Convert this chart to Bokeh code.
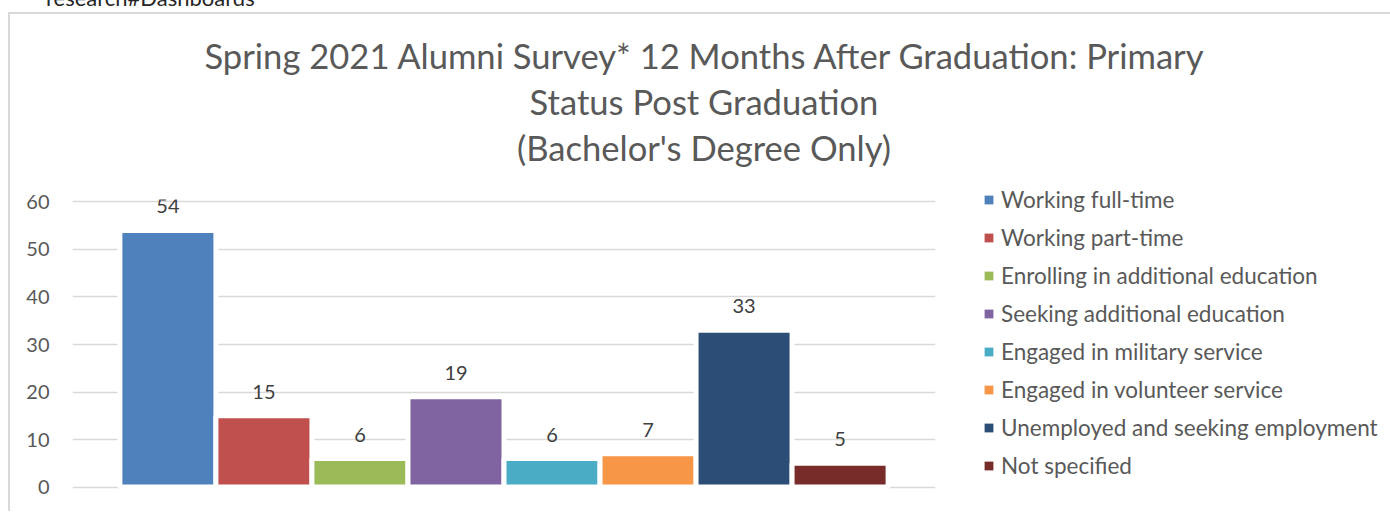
from bokeh.plotting import figure
from bokeh.models import (ColumnDataSource, FactorRange, Range1d, FixedTicker,
                          Legend, LegendItem, Div)
from bokeh.layouts import column
from bokeh.embed import file_html
from bokeh.resources import INLINE
from bokeh.core.properties import value

# ---- data ----
statuses = [
    "Working full-time",
    "Working part-time",
    "Enrolling in additional education",
    "Seeking additional education",
    "Engaged in military service",
    "Engaged in volunteer service",
    "Unemployed and seeking employment",
    "Not specified",
]
counts = [54, 15, 6, 19, 6, 7, 33, 5]
colors = ["#4f81bd", "#c0504d", "#9bbb59", "#8064a2", "#4bacc6", "#f79646", "#2c4d75", "#772c2a"]
y_ticks = [0, 10, 20, 30, 40, 50, 60]
title_lines = [
    "Spring 2021 Alumni Survey* 12 Months After Graduation: Primary",
    "Status Post Graduation",
    "(Bachelor's Degree Only)",
]
header_text = "research#Dashboards"

FONT = "Lato"
GREY = "#595959"

src = ColumnDataSource(dict(status=statuses, value=counts, color=colors,
                            label=[str(v) for v in counts]))

p = figure(
    frame_width=863, frame_height=290,
    x_range=FactorRange(factors=statuses, range_padding=0.1234, range_padding_units="percent"),
    y_range=Range1d(-0.5, 60.5),
    x_axis_location=None,
    min_border_left=62, min_border_right=0, min_border_top=15, min_border_bottom=22,
    toolbar_location=None, output_backend="svg",
)
p.outline_line_color = None
p.xgrid.grid_line_color = None
p.ygrid.grid_line_color = "#d9d9d9"
p.ygrid.grid_line_width = 1.5
p.ygrid.ticker = FixedTicker(ticks=y_ticks)

ax = p.yaxis[0]
ax.ticker = FixedTicker(ticks=y_ticks)
ax.axis_line_color = None
ax.major_tick_line_color = None
ax.minor_tick_line_color = None
ax.major_label_standoff = 17
ax.major_label_text_font = FONT
ax.major_label_text_font_size = "20px"
ax.major_label_text_color = GREY

# bars with white separating border
p.vbar(x="status", top="value", bottom=0, width=1.0, fill_color="color",
       line_color="white", line_width=5, source=src)
# zero-height renderer used only for clean legend swatches
leg_r = p.vbar(x="status", top=0, bottom=0, width=0.9, fill_color="color",
               line_color=None, source=src)

p.text(x="status", y="value", text="label", y_offset=-24, text_align="center",
       text_baseline="middle", text_font=value(FONT), text_font_size="20px",
       text_color="#404040", source=src)

items = [LegendItem(label=s, renderers=[leg_r], index=i) for i, s in enumerate(statuses)]
legend = Legend(items=items, location=(48, 10), glyph_width=11, glyph_height=11,
                label_standoff=7, spacing=11, label_height=27, padding=0, margin=0,
                label_text_font=FONT, label_text_font_size="22.5px",
                label_text_color=GREY, border_line_color=None, background_fill_alpha=0)
p.add_layout(legend, "right")

title_html = ('<div style="box-sizing:border-box;width:1371px;padding-left:7px;padding-top:14px;'
              'text-align:center;font-family:Lato;font-size:34.6px;line-height:46px;color:#595959;">'
              + "<br>".join(t.replace("'", "&#39;") for t in title_lines) + '</div>')
title_div = Div(text=title_html, width=1371, height=160)

box = column(title_div, p, spacing=0,
             styles={"margin-left": "8px", "border-left": "2px solid #d9d9d9",
                     "border-top": "2px solid #d9d9d9"})

header = Div(text='<span style="display:block;position:relative;top:-18px;margin-left:41px;'
                  'font-family:Lato;font-size:22px;line-height:1;color:#262626;">'
                  + header_text + '</span>',
             width=1371, height=2, styles={"overflow": "visible"})

layout = column(header, box, spacing=0)
open("out.html", "w").write(file_html(layout, INLINE))
